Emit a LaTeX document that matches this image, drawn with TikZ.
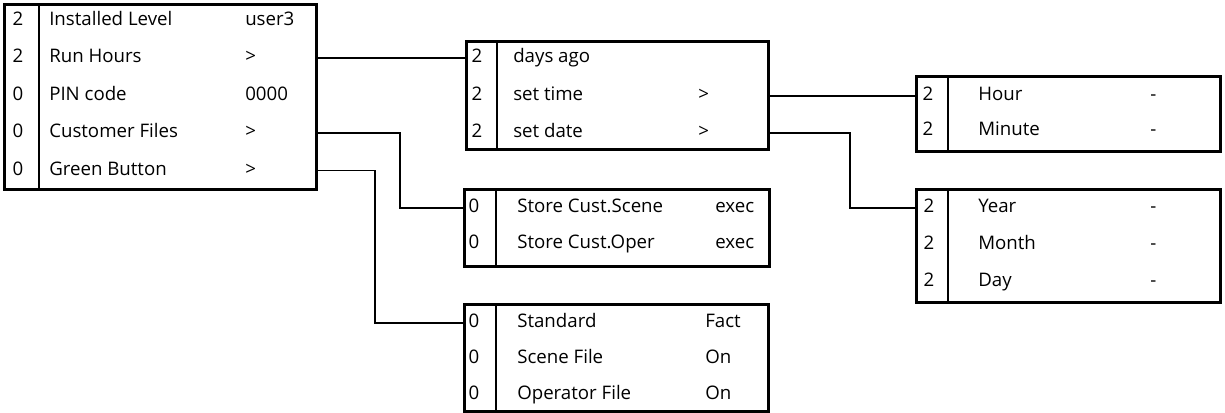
\documentclass[tikz,border=0pt]{standalone}
\usepackage{fontspec}
\setmainfont{Open Sans}
\usetikzlibrary{positioning}
\tikzset{
    menubox/.style={draw, line width=2pt, anchor=north west, inner sep=0pt},
    level/.style={inner sep=0pt, text height=10.5pt, text depth=3.5pt, font=\fontsize{14}{16}\selectfont},
    entry/.style={level, anchor=west},
    divider/.style={line width=1.4pt},
    link/.style={line width=1.4pt}
}

\begin{document}
\begin{tikzpicture}[x=0.75pt, y=-0.75pt]
\useasboundingbox (0,0) rectangle (1225,412);

% menu frames
\node[menubox, minimum width=234pt, minimum height=138.75pt] (main) at (3,3) {};
\node[menubox, minimum width=226.5pt, minimum height=81pt] (days) at (465,40) {};
\node[menubox, minimum width=228.75pt, minimum height=57.75pt] (store) at (463,188) {};
\node[menubox, minimum width=228pt, minimum height=80.25pt] (green) at (463,303) {};
\node[menubox, minimum width=228pt, minimum height=56.25pt] (clock) at (915,75) {};
\node[menubox, minimum width=228pt, minimum height=84.75pt] (date) at (915,188) {};

\draw[divider] ([xshift=27pt]main.north west) -- ([xshift=27pt]main.south west);
\draw[divider] ([xshift=24pt]days.north west) -- ([xshift=24pt]days.south west);
\draw[divider] ([xshift=25pt]store.north west) -- ([xshift=25pt]store.south west);
\draw[divider] ([xshift=25pt]green.north west) -- ([xshift=25pt]green.south west);
\draw[divider] ([xshift=24.5pt]clock.north west) -- ([xshift=24.5pt]clock.south west);
\draw[divider] ([xshift=24.5pt]date.north west) -- ([xshift=24.5pt]date.south west);

% main menu
\node[level] (instlevel-l) at (18,20.5) {2};
\node[entry] (instlevel) at (49,20.5) {Installed Level};
\node[entry] (instlevel-v) at (245,20.5) {user3};
\node[level] (runhours-l) at (18,58) {2};
\node[entry] (runhours) at (49,58) {Run Hours};
\node[entry] (runhours-v) at (245,58) {>};
\node[level] (pincode-l) at (18,95.5) {0};
\node[entry] (pincode) at (49,95.5) {PIN code};
\node[entry] (pincode-v) at (245,95.5) {0000};
\node[level] (custfiles-l) at (18,133) {0};
\node[entry] (custfiles) at (49,133) {Customer Files};
\node[entry] (custfiles-v) at (245,133) {>};
\node[level] (greenbtn-l) at (18,170.5) {0};
\node[entry] (greenbtn) at (49,170.5) {Green Button};
\node[entry] (greenbtn-v) at (245,170.5) {>};

% run hours
\node[level] (daysago-l) at (477,58) {2};
\node[entry] (daysago) at (513,58) {days ago};
\node[level] (settime-l) at (477,96) {2};
\node[entry] (settime) at (513,96) {set time};
\node[entry] (settime-v) at (698,96) {>};
\node[level] (setdate-l) at (477,133) {2};
\node[entry] (setdate) at (513,133) {set date};
\node[entry] (setdate-v) at (698,133) {>};

% customer files
\node[level] (storescene-l) at (474,208) {0};
\node[entry] (storescene) at (517,208) {Store Cust.Scene};
\node[entry] (storescene-v) at (715,208) {exec};
\node[level] (storeoper-l) at (474,244) {0};
\node[entry] (storeoper) at (517,244) {Store Cust.Oper};
\node[entry] (storeoper-v) at (715,244) {exec};

% green button
\node[level] (standard-l) at (474,323) {0};
\node[entry] (standard) at (517,323) {Standard};
\node[entry] (standard-v) at (705,323) {Fact};
\node[level] (scenefile-l) at (474,359) {0};
\node[entry] (scenefile) at (517,359) {Scene File};
\node[entry] (scenefile-v) at (705,359) {On};
\node[level] (operfile-l) at (474,395) {0};
\node[entry] (operfile) at (517,395) {Operator File};
\node[entry] (operfile-v) at (705,395) {On};

% set time
\node[level] (hour-l) at (928,96) {2};
\node[entry] (hour) at (978,96) {Hour};
\node[entry] (hour-v) at (1150,96) {-};
\node[level] (minute-l) at (928,131) {2};
\node[entry] (minute) at (978,131) {Minute};
\node[entry] (minute-v) at (1150,131) {-};

% set date
\node[level] (year-l) at (929,208) {2};
\node[entry] (year) at (978,208) {Year};
\node[entry] (year-v) at (1150,208) {-};
\node[level] (month-l) at (929,245) {2};
\node[entry] (month) at (978,245) {Month};
\node[entry] (month-v) at (1150,245) {-};
\node[level] (day-l) at (929,282) {2};
\node[entry] (day) at (978,282) {Day};
\node[entry] (day-v) at (1150,282) {-};

% connectors
\draw[link] (main.east |- runhours) -- (days.west |- daysago);
\draw[link] (main.east |- custfiles) -- ++(82,0) |- (store.west |- storescene);
\draw[link] (main.east |- greenbtn) -- ++(57,0) |- (green.west |- standard);
\draw[link] (days.east |- settime) -- (clock.west |- hour);
\draw[link] (days.east |- setdate) -- ++(80,0) |- (date.west |- year);
\end{tikzpicture}
\end{document}
